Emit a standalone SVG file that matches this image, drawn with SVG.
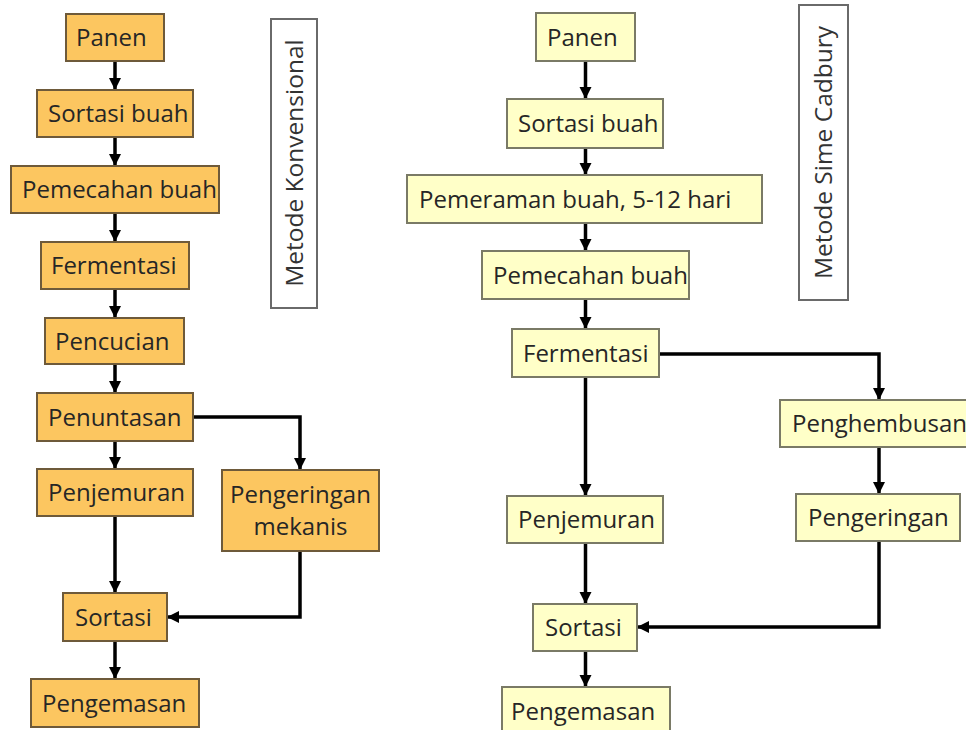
<svg xmlns="http://www.w3.org/2000/svg" width="966" height="730" viewBox="0 0 966 730">
<style>
.o rect{fill:#FCC660;stroke:#6e5a3a;stroke-width:2}
.y rect{fill:#FFFFC8;stroke:#7a7a66;stroke-width:2}
.lbl rect{fill:#ffffff;stroke:#6a6a6a;stroke-width:2}
text{font-family:"Open Sans","Noto Sans","DejaVu Sans",sans-serif;font-size:24px;fill:#262626}
.lbl text{font-size:24.5px;fill:#333}
.c path{fill:none;stroke:#000;stroke-width:3.5;stroke-linejoin:miter}
</style>
<defs>
<marker id="ah" markerUnits="userSpaceOnUse" markerWidth="14" markerHeight="14" viewBox="0 0 14 14" refX="12" refY="7" orient="auto">
<path d="M0,1 L12,7 L0,13 Z" fill="#000"/>
</marker>
</defs>
<rect width="966" height="730" fill="#ffffff"/>

<g class="c" id="connectors">
<path d="M115,61 V90" marker-end="url(#ah)"/>
<path d="M115,137 V166" marker-end="url(#ah)"/>
<path d="M115,213 V242" marker-end="url(#ah)"/>
<path d="M115,289 V318" marker-end="url(#ah)"/>
<path d="M115,364 V393" marker-end="url(#ah)"/>
<path d="M115,441 V469" marker-end="url(#ah)"/>
<path d="M193,417 H300 V470" marker-end="url(#ah)"/>
<path d="M115,516 V593" marker-end="url(#ah)"/>
<path d="M300,551 V617 H167" marker-end="url(#ah)"/>
<path d="M115,641 V679" marker-end="url(#ah)"/>

<path d="M585.5,61 V99" marker-end="url(#ah)"/>
<path d="M585.5,148 V175" marker-end="url(#ah)"/>
<path d="M585.5,223 V251" marker-end="url(#ah)"/>
<path d="M585.5,299 V329" marker-end="url(#ah)"/>
<path d="M585.5,377 V496" marker-end="url(#ah)"/>
<path d="M659,354 H879 V400" marker-end="url(#ah)"/>
<path d="M879,447 V494" marker-end="url(#ah)"/>
<path d="M585.5,543 V604" marker-end="url(#ah)"/>
<path d="M879,541 V627 H637" marker-end="url(#ah)"/>
<path d="M585.5,651 V687" marker-end="url(#ah)"/>
</g>

<!-- Left column: Metode Konvensional -->
<g class="o" id="k-panen"><rect x="66" y="14" width="98" height="47"/><text x="76" y="46">Panen</text></g>
<g class="o" id="k-sortasi-buah"><rect x="37" y="90" width="156" height="47"/><text x="48" y="122">Sortasi buah</text></g>
<g class="o" id="k-pemecahan"><rect x="11" y="166" width="208" height="47"/><text x="22" y="198">Pemecahan buah</text></g>
<g class="o" id="k-fermentasi"><rect x="41" y="242" width="148" height="47"/><text x="51" y="274">Fermentasi</text></g>
<g class="o" id="k-pencucian"><rect x="45" y="318" width="139" height="46"/><text x="55" y="350">Pencucian</text></g>
<g class="o" id="k-penuntasan"><rect x="37" y="393" width="156" height="48"/><text x="48" y="426">Penuntasan</text></g>
<g class="o" id="k-penjemuran"><rect x="37" y="469" width="156" height="47"/><text x="48" y="501">Penjemuran</text></g>
<g class="o" id="k-pengeringan"><rect x="222" y="470" width="157" height="81"/><text x="300.5" y="503" text-anchor="middle">Pengeringan</text><text x="300.5" y="535" text-anchor="middle">mekanis</text></g>
<g class="o" id="k-sortasi"><rect x="63" y="593" width="104" height="48"/><text x="75" y="626">Sortasi</text></g>
<g class="o" id="k-pengemasan"><rect x="31" y="679" width="168" height="48"/><text x="42" y="712">Pengemasan</text></g>
<g class="lbl" id="label-konvensional"><rect x="271" y="19" width="46" height="289"/><text transform="translate(294,163) rotate(-90)" x="0" y="8.5" text-anchor="middle">Metode Konvensional</text></g>

<!-- Right column: Metode Sime Cadbury -->
<g class="y" id="s-panen"><rect x="536" y="13" width="99" height="48"/><text x="547" y="46">Panen</text></g>
<g class="y" id="s-sortasi-buah"><rect x="507" y="99" width="156" height="49"/><text x="518" y="132">Sortasi buah</text></g>
<g class="y" id="s-pemeraman"><rect x="407" y="175" width="355" height="48"/><text x="419" y="208">Pemeraman buah, 5-12 hari</text></g>
<g class="y" id="s-pemecahan"><rect x="482" y="251" width="207" height="48"/><text x="493" y="284">Pemecahan buah</text></g>
<g class="y" id="s-fermentasi"><rect x="512" y="329" width="147" height="48"/><text x="523" y="362">Fermentasi</text></g>
<g class="y" id="s-penghembusan"><rect x="780" y="400" width="200" height="47"/><text x="792" y="432">Penghembusan</text></g>
<g class="y" id="s-pengeringan"><rect x="796" y="494" width="164" height="47"/><text x="808" y="526">Pengeringan</text></g>
<g class="y" id="s-penjemuran"><rect x="507" y="496" width="156" height="47"/><text x="518" y="528">Penjemuran</text></g>
<g class="y" id="s-sortasi"><rect x="533" y="604" width="104" height="47"/><text x="545" y="636">Sortasi</text></g>
<g class="y" id="s-pengemasan"><rect x="502" y="687" width="168" height="48"/><text x="511" y="720">Pengemasan</text></g>
<g class="lbl" id="label-sime"><rect x="799" y="5" width="49" height="295"/><text transform="translate(823.5,152.5) rotate(-90)" x="0" y="8.5" text-anchor="middle">Metode Sime Cadbury</text></g>
</svg>
